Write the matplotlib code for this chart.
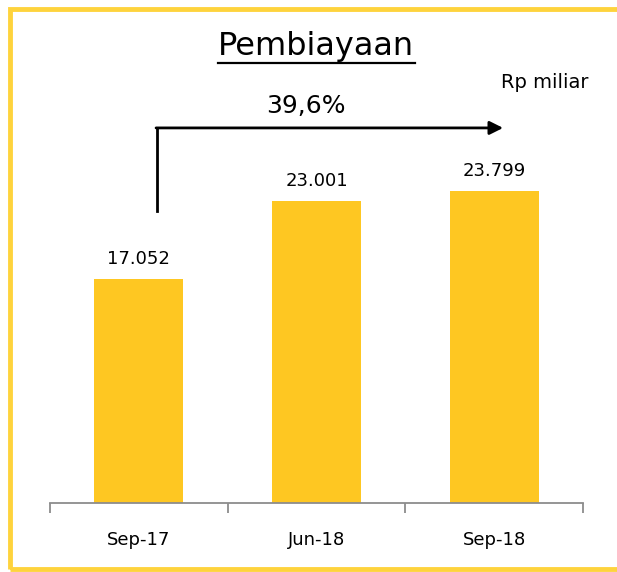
import matplotlib.pyplot as plt
from matplotlib.patches import Rectangle

categories = ['Sep-17', 'Jun-18', 'Sep-18']
values = [17052, 23001, 23799]
value_labels = ['17.052', '23.001', '23.799']
growth_label = '39,6%'

bar_color = '#FEC722'
border_color = '#FED33D'

fig = plt.figure(figsize=(6.17, 5.72), dpi=100)
ax = fig.add_axes([0.081, 0.1206, 0.864, 0.8025])

x = range(len(categories))
bars = ax.bar(x, values, width=0.5, color=bar_color)

ax.set_xlim(-0.5, len(categories) - 0.5)
ax.set_ylim(0, 35000)

for bar, lab in zip(bars, value_labels):
    ax.annotate(lab, (bar.get_x() + bar.get_width() / 2, bar.get_height()),
                xytext=(0, 8), textcoords='offset points',
                ha='center', va='bottom', fontsize=13)

# axis styling: only bottom spine, ticks between categories
for s in ['top', 'left', 'right']:
    ax.spines[s].set_visible(False)
ax.spines['bottom'].set_color('#8c8c8c')
ax.spines['bottom'].set_linewidth(1.3)
ax.set_yticks([])
ax.set_xticks([i - 0.5 for i in range(len(categories) + 1)])
ax.set_xticklabels([])
ax.tick_params(axis='x', which='major', direction='out', length=7,
               width=1.3, color='#8c8c8c')
ax.set_xticks(list(x), minor=True)
ax.set_xticklabels(categories, minor=True, fontsize=13)
ax.tick_params(axis='x', which='minor', length=0, pad=20)

# growth arrow
y_lo, y_hi = 22300, 28600
ax.plot([0.104, 0.104], [y_lo, y_hi], color='black', lw=2, solid_capstyle='projecting')
ax.annotate('', xy=(2.05, y_hi), xytext=(0.097, y_hi),
            arrowprops=dict(arrowstyle='-|>', color='black', lw=2,
                            mutation_scale=20, shrinkA=0, shrinkB=0))
ax.text(0.94, 29350, growth_label, ha='center', va='bottom', fontsize=18)

# title and unit
fig.text(316 / 617, 1 - 46 / 572, 'Pembiayaan', ha='center', va='center',
         fontsize=23)
fig.add_artist(plt.Line2D([218 / 617, 415 / 617], [1 - 63 / 572, 1 - 63 / 572],
                          color='black', lw=1.6))
fig.text(545 / 617, 1 - 83 / 572, 'Rp miliar', ha='center', va='center',
         fontsize=14)

# yellow frame
fig.add_artist(Rectangle((10.5 / 617, 3.5 / 572), 1.0, 1 - 12 / 572,
                         transform=fig.transFigure, fill=False,
                         edgecolor=border_color, lw=3.5, clip_on=False))

fig.savefig('out.png', dpi=100)
